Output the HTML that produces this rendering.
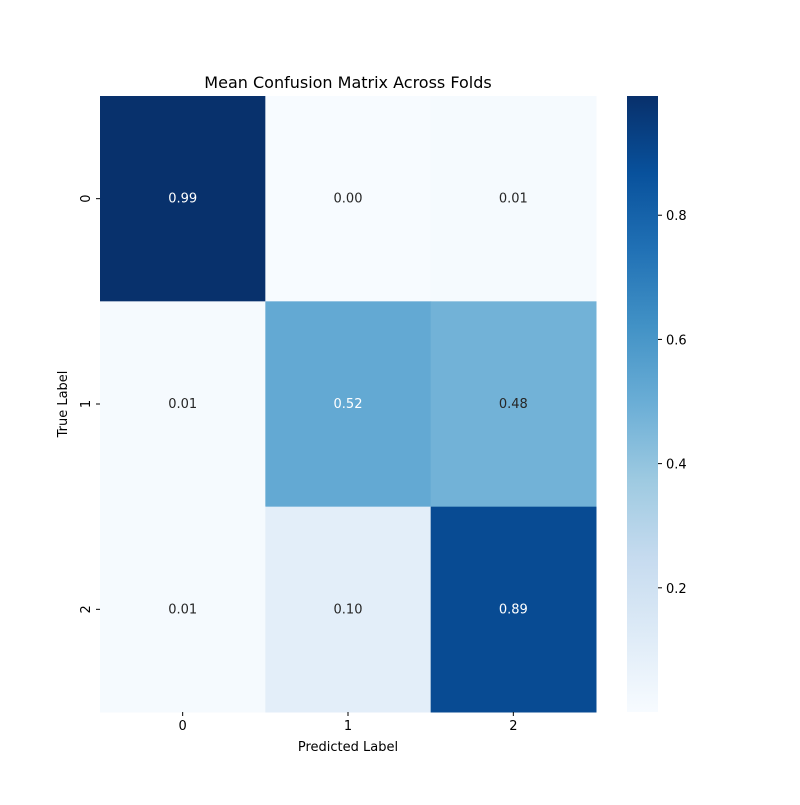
<!DOCTYPE html>
<html><head><meta charset="utf-8"><style>
body{margin:0;background:#fff;}
svg text{font-family:"DejaVu Sans","Liberation Sans",sans-serif;}
</style></head><body>
<svg id="chart" width="800" height="800"></svg>
<script>
const rowLabels=["0","1","2"];
const colLabels=["0","1","2"];
const row0=[0.99,0.00,0.01];
const row1=[0.01,0.52,0.48];
const row2=[0.01,0.10,0.89];
const cbTicks=[0.2,0.4,0.6,0.8];
const vmin=0.0, vmax=0.992;
const matrix=[row0,row1,row2];
const NS="http://www.w3.org/2000/svg";
const svg=document.getElementById('chart');
const L=100,T=96,W=496,H=616;
const cw=W/colLabels.length, ch=H/rowLabels.length;
const stops=["#f7fbff","#deebf7","#c6dbef","#9ecae1","#6baed6","#4292c6","#2171b5","#08519c","#08306b"];
function hx(c){return [1,3,5].map(i=>parseInt(c.substr(i,2),16));}
function cmap(t){t=Math.max(0,Math.min(1,t));const p=t*8,i=Math.min(7,Math.floor(p)),f=p-i;const a=hx(stops[i]),b=hx(stops[i+1]);return `rgb(${a.map((v,k)=>Math.round(v+(b[k]-v)*f)).join(',')})`;}
function norm(v){return (v-vmin)/(vmax-vmin);}
function el(tag,attrs,txt){const e=document.createElementNS(NS,tag);for(const k in attrs)e.setAttribute(k,attrs[k]);if(txt!==undefined)e.textContent=txt;svg.appendChild(e);return e;}
const t=el('text',{x:348,y:88,'text-anchor':'middle','font-size':16,fill:'#000'},'Mean Confusion Matrix Across Folds');


matrix.forEach((row,r)=>row.forEach((v,c)=>{
  const x=L+c*cw,y=T+r*ch;
  const rc=el('rect',{x:x,y:y,width:cw+0.5,height:ch+0.5,fill:cmap(norm(v))});
  
  
  const tx=el('text',{x:x+cw/2,y:y+ch/2+4,'text-anchor':'middle','font-size':13,fill:norm(v)>0.5?'#fff':'#262626'},v.toFixed(2));
  
  
}));
colLabels.forEach((lab,c)=>{
  const x=L+c*cw+cw/2;
  el('line',{x1:x,x2:x,y1:T+H,y2:T+H+4,stroke:'#000'});
  const tx=el('text',{x:x,y:T+H+18,'text-anchor':'middle','font-size':13},lab);
  
  
});
rowLabels.forEach((lab,r)=>{
  const y=T+r*ch+ch/2;
  el('line',{x1:L-4,x2:L,y1:y,y2:y,stroke:'#000'});
  const tx=el('text',{x:0,y:0,'text-anchor':'middle','font-size':13,transform:`translate(${L-10},${y}) rotate(-90)`},lab);
  
  
});
const xt=el('text',{x:348,y:751,'text-anchor':'middle','font-size':13},'Predicted Label');


const yt=el('text',{x:0,y:0,'text-anchor':'middle','font-size':13,transform:`translate(67,${T+H/2}) rotate(-90)`},'True Label');


const CX=627,CW=31;
const defs=el('defs',{});
const g=document.createElementNS(NS,'linearGradient');
g.setAttribute('id','cbg');g.setAttribute('x1','0');g.setAttribute('y1','1');g.setAttribute('x2','0');g.setAttribute('y2','0');
stops.forEach((s,i)=>{const st=document.createElementNS(NS,'stop');st.setAttribute('offset',i/8);st.setAttribute('stop-color',s);g.appendChild(st);});
defs.appendChild(g);
const cb=el('rect',{x:CX,y:T,width:CW,height:H,fill:'url(#cbg)'});


function cy(v){return T+H-(v-vmin)/(vmax-vmin)*H;}
cbTicks.forEach(v=>{
  const y=cy(v);
  el('line',{x1:CX+CW,x2:CX+CW+4,y1:y,y2:y,stroke:'#000'});
  const tx=el('text',{x:CX+CW+8,y:y+5,'font-size':13},v.toFixed(1));
  
  
});
</script>
</body></html>
